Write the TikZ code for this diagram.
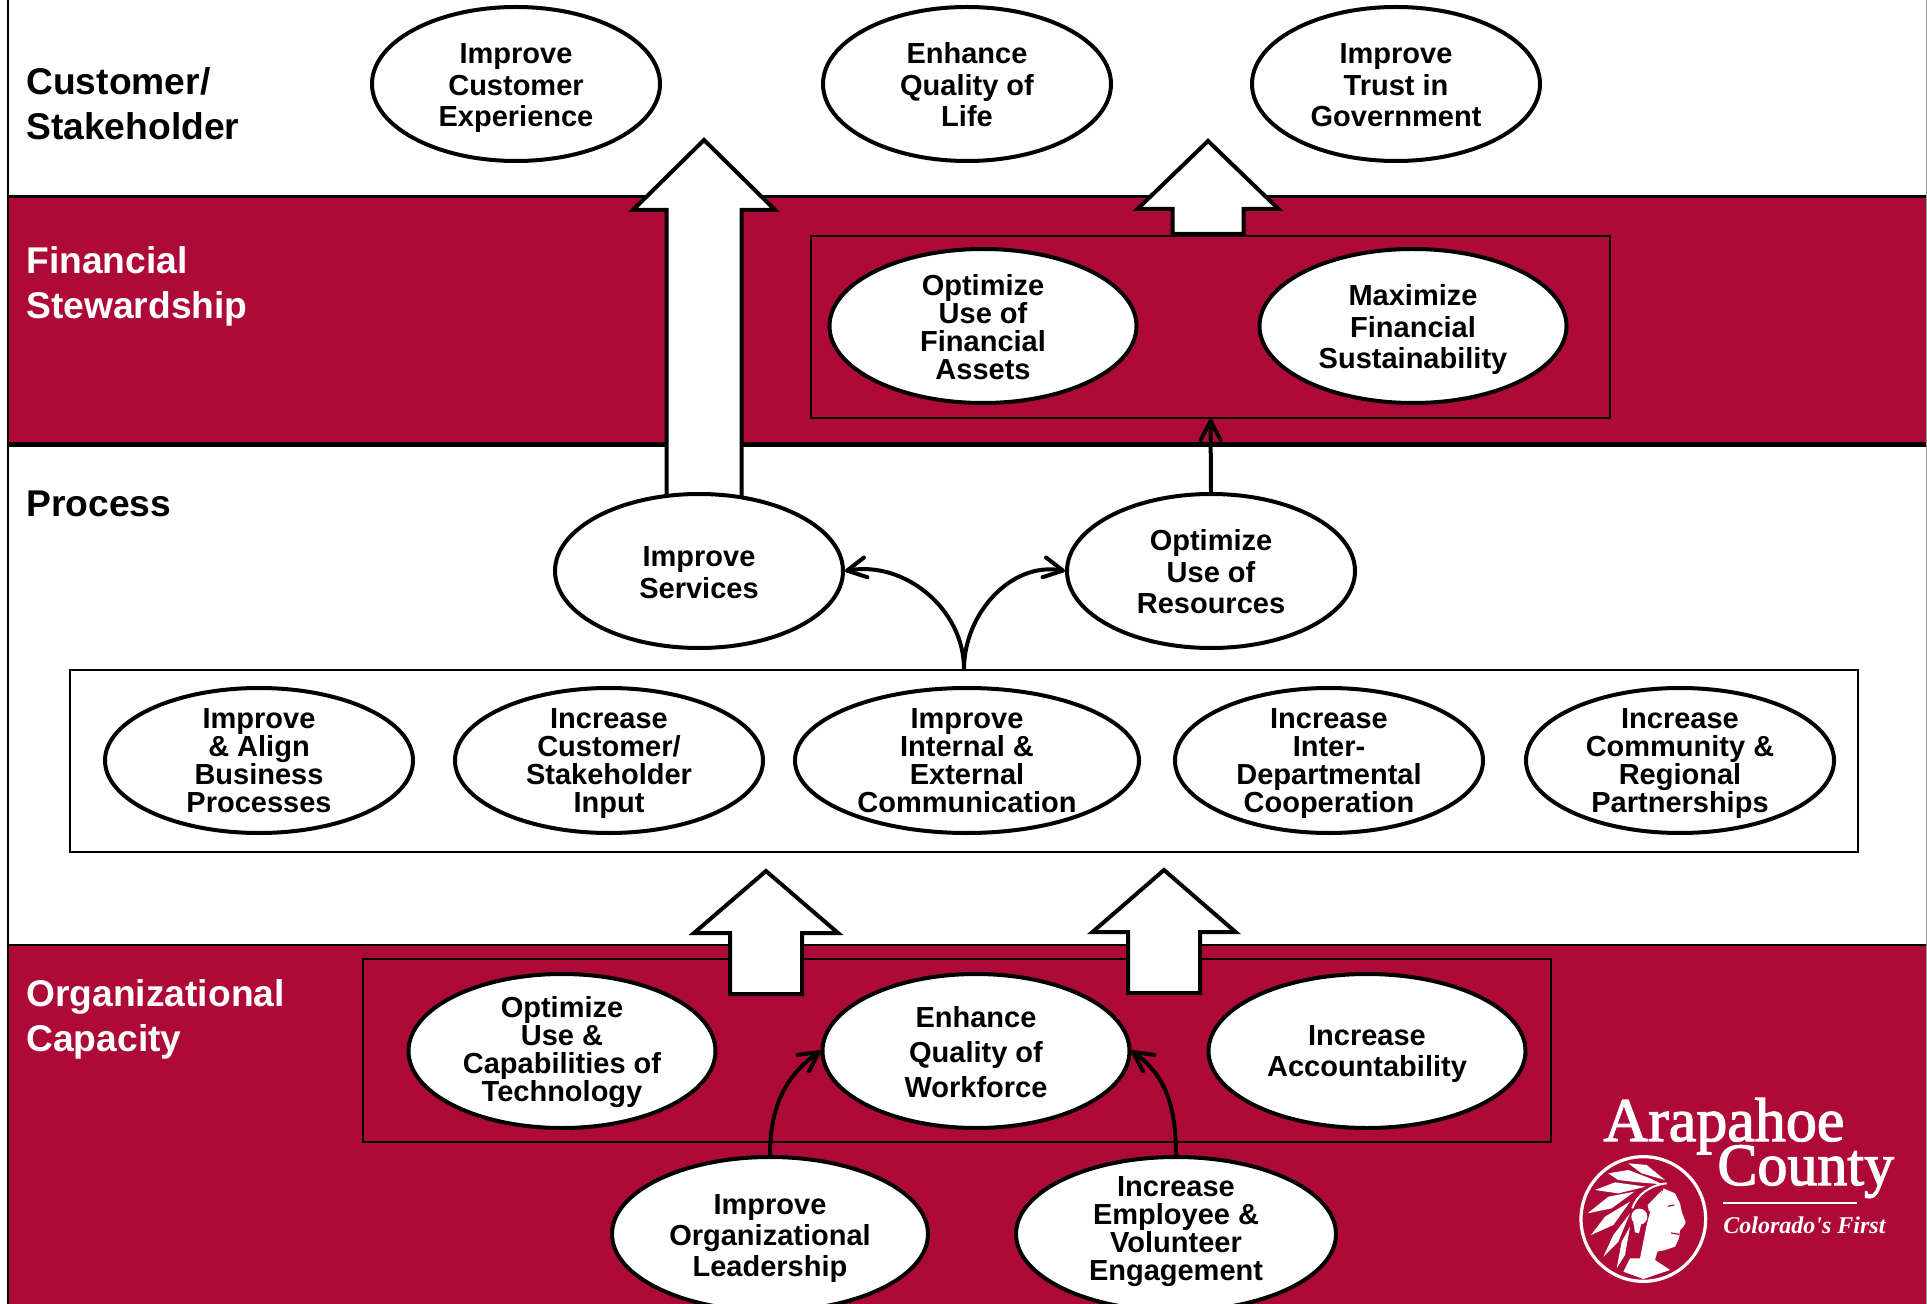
\documentclass[tikz,border=0pt]{standalone}
\usepackage{fontspec}
\setmainfont{Liberation Sans}
\newfontfamily\logofont[FakeBold=2]{Liberation Serif}
\newfontfamily\mottofont{Liberation Serif}
\usetikzlibrary{shapes.geometric,arrows.meta}
\definecolor{bandred}{HTML}{AD0A37}
\newcommand{\upblock}[6]{\draw[blockarrow] (#1,#2) -- (#1+#3,#5) -- (#1+#4,#5) -- (#1+#4,#6) -- (#1-#4,#6) -- (#1-#4,#5) -- (#1-#3,#5) -- cycle;}
\begin{document}
\begin{tikzpicture}[x=0.5pt, y=-0.5pt,
    goal/.style = {shape=ellipse, draw=black, fill=white, line width=2pt, inner sep=-10pt, align=center, minimum width=#1, text=black, font=\bfseries\fontsize{14.5}{15.7}\selectfont,
        execute at end node=\rule[-.3em]{0pt}{.3em}},
    goal/.default = 144pt,
    rows/.style = {execute at begin node={\rule{0pt}{\dimexpr #1\baselineskip+1.086em\relax}}},
    lift/.style = {execute at end node=\rule[-#1]{0pt}{#1}},
    tall/.style = {minimum height=77pt},
    mid/.style = {minimum height=72.5pt, rows=3, lift=5.6pt, font=\bfseries\fontsize{14.5}{14.1}\selectfont},
    fourline/.style = {rows=3, font=\bfseries\fontsize{14.5}{14.1}\selectfont},
    roomy/.style = {font=\bfseries\fontsize{14.5}{17.4}\selectfont},
    rowlabel/.style = {anchor=west, align=left, inner sep=0pt, font=\bfseries\fontsize{18.6}{22.4}\selectfont},
    groupbox/.style = {draw=black, line width=1pt, inner sep=0pt, minimum width=#1},
    blockarrow/.style = {draw=black, fill=white, line width=2pt, miter limit=10},
    thinarrow/.style = {draw=black, line width=2pt, -{Straight Barb[length=9.5pt, width=10pt, line width=2pt, round]}},
    logotext/.style = {text=white, inner sep=0pt, anchor=base west}]
    \useasboundingbox (0,0) rectangle (1927,1304);
    \clip (0,0) rectangle (1927,1304);

    \fill[white] (0,0) rectangle (1927,1304);
    \fill[bandred] (8,196) rectangle (1927,445);
    \fill[bandred] (8,945) rectangle (1927,1320);
    \draw[line width=1.7pt] (8,196.5) -- (1927,196.5);
    \draw[line width=2.5pt] (8,445) -- (1927,445);
    \draw[line width=1.2pt] (8,945) -- (1927,945);
    \draw[line width=0.7pt] (8,-5) -- (8,1320);
    \draw[black!40, line width=0.5pt] (1926.5,-5) -- (1926.5,1320);

    \node[rowlabel] (customer) at (26,104) {Customer/\\Stakeholder};
    \node[rowlabel, text=white] (financial) at (26,286) {Financial\\Stewardship};
    \node[rowlabel] (process) at (26,504) {Process};
    \node[rowlabel, text=white] (capacity) at (26,1019.5) {Organizational\\Capacity};

    \node[groupbox=399.5pt, minimum height=91pt] (finbox) at (1210.5,327) {};
    \node[groupbox=894pt, minimum height=91pt, fill=white] (midbox) at (964,761) {};
    \node[groupbox=594pt, minimum height=91.5pt] (capbox) at (957,1050.5) {};

    \upblock{704}{140}{71}{37.5}{210}{520}
    \upblock{1208}{141}{70.5}{35.5}{209}{234}
    \upblock{766}{871}{72}{36}{933}{994}
    \upblock{1164}{870}{71.5}{36}{932}{993}

    \node[goal, tall, rows=2] (experience) at (516,84) {Improve\\Customer\\Experience};
    \node[goal, tall, rows=2] (life) at (967,84) {Enhance\\Quality of\\Life};
    \node[goal, tall, rows=2] (trust) at (1396,84) {Improve\\Trust in\\Government};

    \node[goal=153.5pt, tall, fourline] (assets) at (983,326) {Optimize\\Use of\\Financial\\Assets};
    \node[goal=153.5pt, tall, rows=2] (sustain) at (1413,326) {Maximize\\Financial\\Sustainability};

    \node[goal, tall, rows=1] (services) at (699,571) {Improve\\Services};
    \node[goal, tall, rows=2] (resources) at (1211,571) {Optimize\\Use of\\Resources};

    \node[goal=154pt, mid] (business) at (259,760.5) {Improve\\\& Align\\Business\\Processes};
    \node[goal=154pt, mid] (input) at (609,760.5) {Increase\\Customer/\\Stakeholder\\Input};
    \node[goal=172pt, mid] (communication) at (967,760.5) {Improve\\Internal \&\\External\\Communication};
    \node[goal=154pt, mid] (cooperation) at (1329,760.5) {Increase\\Inter-\\Departmental\\Cooperation};
    \node[goal=154pt, mid] (partnerships) at (1680,760.5) {Increase\\Community \&\\Regional\\Partnerships};

    \node[goal=153.5pt, tall, fourline, lift=7.3pt] (technology) at (562,1051) {Optimize\\Use \&\\Capabilities of\\Technology};
    \node[goal=153.5pt, tall, roomy, rows=2] (workforce) at (976,1051) {Enhance\\Quality of\\Workforce};
    \node[goal=158.5pt, tall, rows=1, lift=5.6pt] (account) at (1367,1051) {Increase\\Accountability};

    \node[goal=158pt, tall, rows=2] (leadership) at (770,1234) {Improve\\Organizational\\Leadership};
    \node[goal=160pt, tall, fourline, lift=11.2pt] (engagement) at (1176,1234) {Increase\\Employee \&\\Volunteer\\Engagement};

    \draw[thinarrow] (resources.north) -- (finbox.south);
    \draw[thinarrow] (midbox.north) to[out=90, in=10] (services.east);
    \draw[thinarrow] (midbox.north) to[out=90, in=170] (resources.west);
    \draw[thinarrow] (leadership.north) to[out=90, in=215] (workforce.west);
    \draw[thinarrow] (engagement.north) to[out=90, in=-35] (workforce.east);

    \node[logotext, text depth=0pt, font=\logofont\fontsize{31}{31}\selectfont] (arapahoe) at (1603,1141) {Arapahoe};
    \node[logotext, font=\logofont\fontsize{30}{30}\selectfont] (county) at (1717,1185) {County};
    \node[logotext, font=\mottofont\bfseries\itshape\fontsize{12}{12}\selectfont] (first) at (1723,1233) {Colorado's First};
    \draw[white, line width=0.8pt] (1723,1203) -- (1857,1203);

    \begin{scope}[shift={(1575,1145)}, scale=1/3]
        \draw[white, line width=1.6pt] (205,222) circle (187);
        \fill[white] (160,55) -- (215,60) -- (270,105) -- (200,85) -- cycle;
        \fill[white] (100,85) -- (160,75) -- (225,100) -- (262,118) -- (190,112) -- (130,105) -- cycle;
        \fill[white] (60,135) -- (120,112) -- (212,125) -- (130,145) -- cycle;
        \fill[white] (38,205) -- (100,155) -- (178,140) -- (110,190) -- cycle;
        \fill[white] (48,270) -- (90,215) -- (165,170) -- (115,240) -- cycle;
        \fill[white] (85,335) -- (115,270) -- (165,205) -- (130,290) -- cycle;
        \fill[white] (125,370) -- (140,290) -- (165,245) -- (150,330) -- cycle;
        \draw[white, line width=1pt] (172,190) .. controls (185,150) and (225,120) .. (275,115);
        \fill[white] (265,130) -- (300,145) -- (315,175) -- (320,200) -- (332,232) -- (325,245) -- (315,255) -- (312,280) -- (300,305) -- (270,315) -- (247,320) -- (240,345) -- (285,375) -- (205,402) -- (145,380) -- (165,340) -- (195,340) -- (205,290) -- (215,240) -- (228,190) -- (262,140) -- cycle;
        \fill[white] (193,215) circle (24);
        \fill[white] (175,230) -- (200,230) -- (192,265) -- (180,262) -- cycle;
        \fill[white] (218,180) -- (262,135) -- (245,175) -- (222,200) -- cycle;
        \draw[bandred, line width=0.6pt] (278,184) -- (298,180);
        \draw[bandred, line width=0.6pt] (288,264) -- (312,268);
    \end{scope}
\end{tikzpicture}
\end{document}
